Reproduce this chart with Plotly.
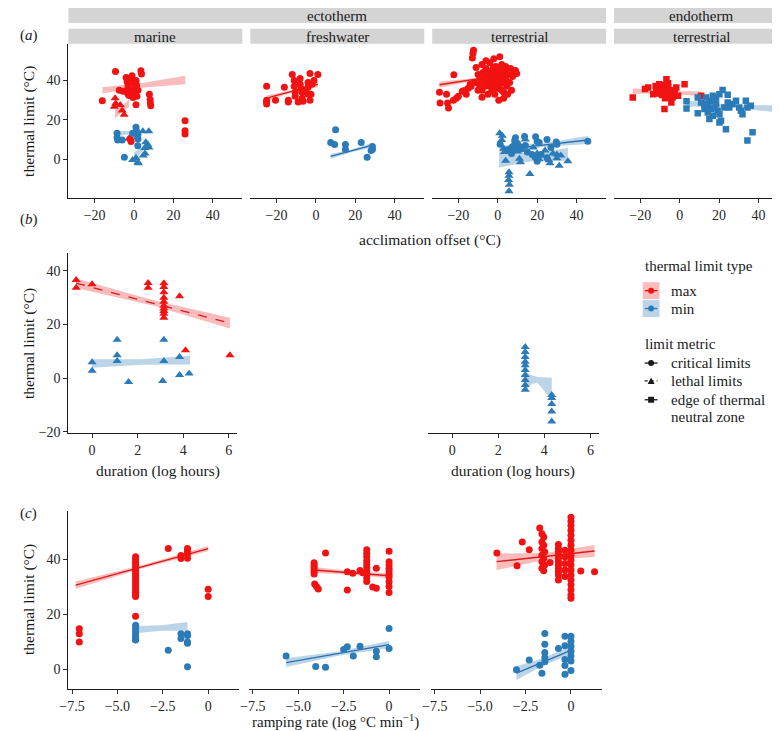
import plotly.graph_objects as go

W, H = 780, 731
FONT = "Liberation Serif, Times New Roman, Times, serif"
RED = "#f21212"
BLUE = "#2b7bb9"
RED_LINE = "#dc1818"
BLUE_LINE = "#2a6fae"
RED_FILL = "rgba(244,120,120,0.5)"
BLUE_FILL = "rgba(120,170,210,0.5)"
TXT = "#1a1a1a"

# ---------------- DATA ----------------
# (a) acclimation offset vs thermal limit
a_mar_max_crit_x = [-16.1, -9.4, -4, -3.5, -3, -3, -2.5, -3.5, -3, -2.5, -1, -0.7, -1, 0, 0, -0.5, 1, 1.3, 2, 1.5, 3.5, 3.8, 1, 7.8, 8.2, 8.3, 8.5, 25.9, 25.9, 25.9, -2, -1.5, -7.5, -5.5]
a_mar_max_crit_y = [29.7, 44.5, 41.5, 39.5, 38, 36.5, 35, 34, 33, 32.4, 42.3, 40.6, 39, 35.6, 33.9, 31.4, 40, 37.5, 35, 32, 44.9, 43.2, 27.7, 33, 30.3, 28.6, 27.1, 19.6, 14.5, 12.8, 10.3, 9.1, 35, 34.5]
a_mar_max_leth_x = [-9.6, -9.3, -10, -7, -6, -5, -2.5]
a_mar_max_leth_y = [31, 28.3, 26.6, 27.5, 24.7, 22.6, 10.5]
a_mar_min_crit_x = [-8.6, -8.6, -8.3, -6, -4.9, 1, 1.2, 1, 1.5, 2, 2, 1.9, -0.7]
a_mar_min_crit_y = [13.2, 11.1, 9.8, 9.8, 1, 16.2, 14.5, 13.2, 11.5, 10.3, 12.6, 6.9, 13.2]
a_mar_min_leth_x = [4.5, 7.5, 6, 7, 7.6, 5.5, -0.7, 1, 2, 2.2, 4.7, 5.6]
a_mar_min_leth_y = [14.2, 14.2, 8.6, 7.4, 6, 5.7, -0.3, 0.7, -1.5, -2, 1.9, 3]

a_fw_max_crit_x = [-25, -25, -25, -25, -20.5, -16, -14, -14, -12, -11, -11, -10.5, -10.5, -8, -8, -7.5, -7, -7, -6.5, -4, -4, -4, -3, -3, -2.5, -2, 1, -5, -9, -1]
a_fw_max_crit_y = [37, 30, 29, 28, 30, 36.5, 30, 29, 43, 40, 37, 34, 32, 41, 38, 36, 34, 31, 29.5, 39, 36.5, 33, 43.5, 30, 33, 38, 43, 35, 29, 40]
a_fw_min_crit_x = [10, 7.5, 9.5, 15, 15, 23, 26, 28.7, 28.7, 28]
a_fw_min_crit_y = [15, 8.5, 7.5, 7.5, 5, 8.5, 1, 6.5, 5, 4.5]

a_ter_max_crit_x = [-12.3, -12.6, -12.9, -22.3, -29.6, -29.3, -25.5, -25, -22.5, -21, -20, -26, -18, -16.6, -15, -13.5, -12, -11, -10, -9.5, -9, -8, -8, -7.5, -7, -6.5, -6, -6, -5.5, -5, -5, -4.5, -4, -4, -3.5, -3, -3, -2.5, -2.5, -2, -2, -1.5, -1.5, -1, -1, -0.5, 0, 0, 0, 0.5, 1, 1, 1.5, 2, 2, 2.5, 3, 3, 3.5, 4, 4.5, 5, 5, 6, 6.5, 7, 7.5, 8, 9, 9.6, 0.5, -14, -16, -8, -10, 4, -2, -6, 1, 3]
a_ter_max_crit_y = [55.3, 53.6, 51.3, 42.9, 34, 28.5, 28.5, 26, 30, 31, 32, 33, 34.5, 35, 36, 37, 39, 46.5, 43, 38, 41, 48, 35, 44, 40, 37, 42, 46, 39, 44, 33, 41, 37, 49, 43, 39, 35, 46, 41, 44, 37, 40, 33, 42, 47, 38, 44, 36, 40, 42, 38, 45, 41, 35, 48, 43, 39, 31, 45, 41, 37, 43, 33, 39, 46, 35, 42, 44, 45, 43.5, 30, 38, 33, 31.5, 35, 47, 51, 50, 52, 34]
a_ter_min_crit_x = [1.2, 13.6, 19.2, 20, 21, 29.7, 30, 45.7, 8.6, 10, 11, 12, 15, 17.5, 19, 20, 22, 25, 4.9, 7, 9, 25, 27, 14]
a_ter_min_crit_y = [7.7, 11.6, 11.5, 9, 8.5, 8.8, 7.7, 9.2, 9.6, 8, 6.5, 5.2, 3.7, 2.5, 1, -1, 2.5, 0.8, 4.8, 3, 11, 10, 6, 7]
a_ter_min_leth_x = [1, 2.3, 2, 3, 3.5, 4, 5.7, 5.7, 5.5, 5.9, 5.7, 6.5, 7.5, 9, 10, 11, 11.5, 16.3, 26, 26.5, 30, 31.2, 35.6, 30, 32, 20, 21, 8, 10, 14, 18, 24, 28]
a_ter_min_leth_y = [13.2, 12, 9.8, 5.5, 3.7, -0.7, -6.6, -8.3, -10.5, -12.9, -16.2, 6, 7, 8, 5.5, 0.3, -1.5, -7.4, -0.5, -2, 0.5, -3.2, -1, 2.5, 2, 3, 0, 5, 4, 10, 6, 4.5, 3]

a_end_max_edge_x = [-23.8, -17.6, -16, -11.8, -11.8, -10.4, -8.4, -6.7, -5.9, -5, -9, -7.4, -4.2, -7.7, -2.5, -1.7, 2.5, -0.8, 10.9, -13.4, -9.8, -3.5, -5.8, -9, -12.2, -4.6, -7, -3, -6.2, -8.6]
a_end_max_edge_y = [31.4, 35.6, 36.4, 35.6, 33.4, 38.1, 35.6, 40.6, 38.5, 34.7, 32.6, 30.9, 28.8, 25.5, 33.9, 36.4, 38.1, 32.2, 32.2, 33, 36.5, 31.5, 36.8, 37.6, 37.2, 32.6, 33.5, 35, 31.5, 34.3]
a_end_min_edge_x = [3.5, 3.5, 9.2, 9.2, 10.9, 12.6, 13.4, 15.1, 16.8, 17.6, 20.2, 21.8, 24.4, 25.2, 26.9, 28.6, 30.2, 31.9, 33.6, 34.4, 36.1, 31.1, 15.1, 20.2, 21, 23.5, 37, 34.4, 51.1, 14.3, 16, 18.5, 19.3, 17.6, 12.6, 14.3, 20.2, 16.8, 22.7, 24.4, 18.5]
a_end_min_edge_y = [29.5, 25.8, 23.3, 31.4, 28.8, 27.9, 31.4, 29.7, 32.2, 26.3, 33, 35.1, 32.7, 26.3, 28, 29.7, 26.3, 22.9, 29.7, 26.3, 27.2, 24.6, 20.4, 18.7, 19.6, 15.3, 13.7, 9.5, 25.5, 27.2, 25.5, 28, 24.6, 29.7, 25.5, 23.8, 22.9, 22.1, 26.3, 28.8, 31.4]

# (b) duration vs thermal limit (lethal limits)
b_l_max_x = [-0.7, -0.7, 0, 2.46, 2.46, 3.15, 3.15, 3.15, 3.15, 3.15, 3.15, 3.15, 3.15, 3.15, 3.15, 3.84, 4.1, 6.05]
b_l_max_y = [36.6, 33.7, 35, 35.5, 33.7, 35.4, 34, 32, 30, 28.5, 27, 26, 25, 24, 22.5, 30.5, 10.4, 8.5]
b_l_min_x = [0, 0, 1.1, 1.1, 1.1, 1.6, 3.15, 3.15, 3.1, 3.84, 3.84, 4.26]
b_l_min_y = [5.9, 2.7, 14.3, 8.5, 6.4, -1.5, 14.3, 6.4, -1.1, 7.9, 1.1, 1.7]
b_r_min_x = [3.17, 3.17, 3.17, 3.17, 3.17, 3.17, 3.17, 3.17, 3.17, 3.17, 4.32, 4.32, 4.32, 4.32, 4.32]
b_r_min_y = [11.6, 9.7, 7.9, 6.1, 4.8, 3, 1.1, -0.7, -2.6, -4.4, -6.3, -7.5, -9.7, -12.5, -16.2]

# (c) ramping rate vs thermal limit (critical limits)
c_l_max_x = [-7.1, -7.1, -7.1, -4, -4, -4, -4, -4, -4, -4, -4, -4, -4, -4, -4, -4, -4, -4, -4, -4, -2.2, -1.5, -1.5, -1.14, -1.14, -1.14, -1.14, 0, 0]
c_l_max_y = [14.8, 13, 10, 41, 40, 39, 38, 37, 36, 35, 34, 33, 32, 31, 30, 29, 28, 27, 26.6, 19.4, 44, 41.5, 40.4, 44, 43, 42, 40.5, 29.2, 26.6]
c_l_min_x = [-4, -4, -4, -4, -4, -4, -4, -2.2, -1.5, -1.5, -1.14, -1.14, -1.14, -1.14, -1.14]
c_l_min_y = [16.1, 15, 14, 13, 12, 11, 10.7, 7, 13, 11.3, 13, 12.4, 10, 9.6, 1]
c_m_max_x = [-3.5, -4.13, -4.13, -4.13, -4.13, -4.13, -4.13, -4.1, -4.0, -3.9, -2.3, -2.3, -2.0, -1.6, -1.45, -1.23, -1.23, -1.23, -1.23, -1.23, -1.23, -1.23, -1.23, -1.23, -1.23, -0.7, -0.9, -0.7, 0, 0, 0, 0, 0, 0, 0, 0, 0, 0]
c_m_max_y = [42.4, 38.8, 38, 37.2, 36.4, 35.6, 34.7, 31.1, 30.2, 29.3, 35.6, 28.9, 35, 36, 35.2, 43.6, 42.3, 41, 39.6, 38.4, 37.2, 36, 34.8, 33.4, 32, 36.8, 30, 29.6, 43, 39.2, 38, 36.8, 35.8, 34.6, 33.6, 31.9, 30.2, 28]
c_m_min_x = [-5.67, -4.04, -3.5, -2.5, -2.3, -1.97, -1.6, -0.7, -0.7, 0, 0]
c_m_min_y = [4.9, 1.1, 0.8, 7.3, 8.3, 4.9, 8.5, 6.7, 4.7, 14.9, 7.7]
c_r_max_x = [-4.08, -2.68, -2.97, -2.3, -1.15, 0.54, 1.3,
             -1.72, -1.6, -1.5, -1.6, -1.5, -1.6, -1.45, -1.6, -1.5, -1.6, -1.45, -1.6, -1.5,
             -0.69, -0.69, -0.69, -0.69, -0.69, -0.69, -0.69, -0.69, -0.69, -0.69, -0.69,
             0, 0, 0, 0, 0, 0, 0, 0, 0, 0, 0, 0, 0, 0, 0, 0, 0, 0,
             -0.33, -0.33, -0.33, -0.33, -0.33]
c_r_max_y = [42.4, 46.4, 37.7, 43.6, 38.9, 35.8, 35.6,
             51.5, 49.4, 48.2, 46.4, 45.2, 44, 42.8, 41.6, 40.4, 39.2, 38, 36.8, 35.9,
             45.5, 44, 42.8, 41.6, 40.4, 39.2, 38, 36.8, 35.6, 34.4, 32.6,
             55.4, 53.9, 52.4, 50.6, 48.8, 47, 45.2, 43.4, 41.6, 39.8, 38, 36.2, 34.4, 32.6, 30.8, 29, 27.1, 25.9,
             43.4, 41, 38.6, 36.2, 33.8]
c_r_min_x = [-3, -2.3, -1.72, -1.6, -1.44, -1.44, -1.44, -1.44, -1.44, -0.69, -0.33, -0.33, -0.33, -0.33, -0.33, 0, 0, 0, 0, 0, 0, 0]
c_r_min_y = [-0.1, 3.5, 1.6, -1.3, 13.1, 9.2, 6.2, 4.4, 2.8, 7.7, 12.1, 8.7, 3.7, 1.5, -1.7, 12.1, 10.3, 8.5, 6.7, 4.9, 3.1, -0.3]

# fitted trends: x, fitted value, half-width of confidence band
fit_a_mar_max_crit = ([-16, 5, 26], [35, 37.6, 40.2], [1.5, 1.2, 2.1])
fit_a_mar_max_leth = ([-9.6, -5, -2.5], [23, 26.5, 28.5], [2.2, 1.5, 2.0])
fit_a_mar_min_crit = ([-8.6, -3, 2], [13, 13.5, 14], [1.3, 0.9, 1.3])
fit_a_mar_min_leth = ([0, 4, 7.6], [1.5, 5, 8.3], [2.0, 1.3, 1.8])
fit_a_fw_max_crit = ([-25, -12, 1], [31, 34.5, 38], [1.3, 0.7, 1.3])
fit_a_fw_min_crit = ([7.5, 18, 28.7], [1.5, 4.3, 7.2], [1.2, 0.7, 1.2])
fit_a_ter_max_crit = ([-29.6, -10, 9.6], [37.8, 40.8, 43.8], [1.5, 0.6, 1.2])
fit_a_ter_min_crit = ([1, 23, 45.7], [4.7, 7.2, 9.8], [2.3, 1.0, 2.0])
fit_a_ter_min_leth = ([0.7, 18, 35.6], [-0.3, 1.1, 2.5], [3.8, 2.0, 3.2])
fit_a_end_max_edge = ([-23.8, -6, 10.9], [34.6, 34, 33.2], [1.3, 0.6, 1.2])
fit_a_end_min_edge = ([3.5, 27, 51.1], [28.3, 26.9, 25.5], [1.5, 0.8, 1.8])
fit_b_l_max = ([-0.7, 2.7, 6.05], [35.4, 28, 20.5], [1.8, 1.0, 2.0])
fit_b_l_min = ([0, 2.15, 4.3], [5.4, 6, 6.7], [1.6, 1.0, 1.6])
fit_b_r_min = ([3.17, 3.45, 3.7, 4.32], [-1.2, -0.6, -0.7, -4.0], [3.5, 1.6, 1.1, 4.1])
fit_c_l_max = ([-7.3, -3.65, 0], [30.7, 37.3, 44], [1.3, 0.6, 0.9])
fit_c_l_min = ([-4, -2.57, -1.14], [14.5, 15.1, 15.7], [1.3, 1.0, 1.6])
fit_c_m_max = ([-4.13, -2, 0], [36.2, 35.1, 34.1], [1.1, 0.6, 0.9])
fit_c_m_min = ([-5.67, -2.8, 0], [2.5, 5.8, 9.1], [1.6, 0.8, 1.3])
fit_c_r_max = ([-4.1, -1.4, 1.3], [39.2, 41.15, 43.1], [3.0, 1.2, 2.2])
fit_c_r_min = ([-3, -1.5, 0], [-1.3, 2.9, 7], [2.5, 1.3, 1.5])

strip_top = ["ectotherm", "endotherm"]
strip_habitat = ["marine", "freshwater", "terrestrial", "terrestrial"]
a_ticks = [-20, 0, 20, 40]
b_xticks = [0, 2, 4, 6]
c_xticks = [-7.5, -5, -2.5, 0]
c_xticktext = ["\u22127.5", "\u22125.0", "\u22122.5", "0"]
c_yticks = [0, 20, 40]

# ---------------- FIGURE ----------------
fig = go.Figure()


def px(p):
    return p / W


def py(p):
    return 1 - p / H


def axid(i):
    return ("x" if i == 1 else f"x{i}"), ("y" if i == 1 else f"y{i}")


def pts(i, x, y, color, symbol, size):
    xa, ya = axid(i)
    fig.add_trace(go.Scatter(x=x, y=y, mode="markers", xaxis=xa, yaxis=ya,
                             marker=dict(color=color, symbol=symbol, size=size, line=dict(width=0)),
                             showlegend=False, hoverinfo="skip"))


def fit(i, f, fill, linecolor=None, dash="solid"):
    xa, ya = axid(i)
    xs, ys, se = f
    lo = [a - b for a, b in zip(ys, se)]
    hi = [a + b for a, b in zip(ys, se)]
    fig.add_trace(go.Scatter(x=list(xs) + list(xs)[::-1], y=hi + lo[::-1], mode="lines",
                             fill="toself", fillcolor=fill, line=dict(width=0),
                             xaxis=xa, yaxis=ya, showlegend=False, hoverinfo="skip"))
    if linecolor:
        fig.add_trace(go.Scatter(x=xs, y=ys, mode="lines", line=dict(color=linecolor, width=1.3, dash=dash),
                                 xaxis=xa, yaxis=ya, showlegend=False, hoverinfo="skip"))


# panel (a): axes 1-4
fit(1, fit_a_mar_max_crit, RED_FILL)
fit(1, fit_a_mar_max_leth, RED_FILL)
fit(1, fit_a_mar_min_crit, BLUE_FILL)
fit(1, fit_a_mar_min_leth, BLUE_FILL)
pts(1, a_mar_max_crit_x, a_mar_max_crit_y, RED, "circle", 7)
pts(1, a_mar_max_leth_x, a_mar_max_leth_y, RED, "triangle-up", 8)
pts(1, a_mar_min_crit_x, a_mar_min_crit_y, BLUE, "circle", 7)
pts(1, a_mar_min_leth_x, a_mar_min_leth_y, BLUE, "triangle-up", 8)

fit(2, fit_a_fw_max_crit, RED_FILL, RED_LINE)
fit(2, fit_a_fw_min_crit, BLUE_FILL, BLUE_LINE)
pts(2, a_fw_max_crit_x, a_fw_max_crit_y, RED, "circle", 7)
pts(2, a_fw_min_crit_x, a_fw_min_crit_y, BLUE, "circle", 7)

fit(3, fit_a_ter_max_crit, RED_FILL, RED_LINE)
fit(3, fit_a_ter_min_crit, BLUE_FILL, BLUE_LINE)
fit(3, fit_a_ter_min_leth, BLUE_FILL)
pts(3, a_ter_max_crit_x, a_ter_max_crit_y, RED, "circle", 7)
pts(3, a_ter_min_crit_x, a_ter_min_crit_y, BLUE, "circle", 7)
pts(3, a_ter_min_leth_x, a_ter_min_leth_y, BLUE, "triangle-up", 8)

fit(4, fit_a_end_max_edge, RED_FILL)
fit(4, fit_a_end_min_edge, BLUE_FILL)
pts(4, a_end_max_edge_x, a_end_max_edge_y, RED, "square", 6.5)
pts(4, a_end_min_edge_x, a_end_min_edge_y, BLUE, "square", 6.5)

# panel (b): axes 5-6
fit(5, fit_b_l_max, RED_FILL, RED_LINE, "dash")
fit(5, fit_b_l_min, BLUE_FILL)
pts(5, b_l_max_x, b_l_max_y, RED, "triangle-up", 8)
pts(5, b_l_min_x, b_l_min_y, BLUE, "triangle-up", 8)
fit(6, fit_b_r_min, BLUE_FILL)
pts(6, b_r_min_x, b_r_min_y, BLUE, "triangle-up", 8)

# panel (c): axes 7-9
fit(7, fit_c_l_max, RED_FILL, RED_LINE)
fit(7, fit_c_l_min, BLUE_FILL)
pts(7, c_l_max_x, c_l_max_y, RED, "circle", 7)
pts(7, c_l_min_x, c_l_min_y, BLUE, "circle", 7)
fit(8, fit_c_m_max, RED_FILL, RED_LINE)
fit(8, fit_c_m_min, BLUE_FILL, BLUE_LINE)
pts(8, c_m_max_x, c_m_max_y, RED, "circle", 7)
pts(8, c_m_min_x, c_m_min_y, BLUE, "circle", 7)
fit(9, fit_c_r_max, RED_FILL, RED_LINE)
fit(9, fit_c_r_min, BLUE_FILL, BLUE_LINE)
pts(9, c_r_max_x, c_r_max_y, RED, "circle", 7)
pts(9, c_r_min_x, c_r_min_y, BLUE, "circle", 7)

# ---------------- AXES ----------------
tickfont = dict(family=FONT, size=14, color="#262626")
base = dict(showline=True, linecolor="#1a1a1a", linewidth=1, ticks="outside", ticklen=4,
            tickcolor="#333333", tickwidth=1, showgrid=False, zeroline=False,
            tickfont=tickfont, fixedrange=True)

A_XR = [-33.3, 55.0]
A_YR = [-19.8, 58.6]
B_XR = [-1.04, 6.38]
B_YR = [-20.7, 46.7]
C_XR = [-7.7, 1.72]
C_YR = [-7.2, 57.7]

specs = [
    # i, xdom px, ydom px, xrange, yrange, xticks, xticktext, yticks, show y axis
    (1, (52, 228), (36, 192), A_XR, A_YR, a_ticks, None, a_ticks, True),
    (2, (236, 412), (36, 192), A_XR, A_YR, a_ticks, None, a_ticks, False),
    (3, (420, 596), (36, 192), A_XR, A_YR, a_ticks, None, a_ticks, False),
    (4, (604, 780), (36, 192), A_XR, A_YR, a_ticks, None, a_ticks, False),
    (5, (52, 223), (247, 429), B_XR, B_YR, b_xticks, None, a_ticks, True),
    (6, (416, 589), (247, 429), B_XR, B_YR, b_xticks, None, a_ticks, False),
    (7, (52, 225), (507, 687), C_XR, C_YR, c_xticks, c_xticktext, c_yticks, True),
    (8, (235, 408), (507, 687), C_XR, C_YR, c_xticks, c_xticktext, c_yticks, False),
    (9, (419, 592), (507, 687), C_XR, C_YR, c_xticks, c_xticktext, c_yticks, False),
]
layout_axes = {}
for i, xd, yd, xr, yr, xt, xtt, yt, showy in specs:
    xk = "xaxis" if i == 1 else f"xaxis{i}"
    yk = "yaxis" if i == 1 else f"yaxis{i}"
    xa, ya = axid(i)
    xdict = dict(base, domain=[px(xd[0]), px(xd[1])], range=xr, tickvals=xt, anchor=ya)
    if xtt:
        xdict["ticktext"] = xtt
    layout_axes[xk] = xdict
    ydict = dict(base, domain=[py(yd[1]), py(yd[0])], range=yr, tickvals=yt, anchor=xa)
    if not showy:
        ydict["visible"] = False
    layout_axes[yk] = ydict

# ---------------- STRIPS, TITLES, LEGEND ----------------
shapes = []
annotations = []


def text(x, y, s, size=15, xanchor="center", angle=0, color=TXT, yanchor="middle"):
    annotations.append(dict(x=px(x), y=py(y), xref="paper", yref="paper", text=s, showarrow=False,
                            xanchor=xanchor, yanchor=yanchor, textangle=angle,
                            font=dict(family=FONT, size=size, color=color)))


STRIP = "#d4d4d4"
for (x0, x1), lab in zip([(52, 596), (604, 780)], strip_top):
    shapes.append(dict(type="rect", xref="paper", yref="paper", x0=px(x0), x1=px(x1), y0=py(15), y1=py(0),
                       fillcolor=STRIP, line=dict(width=0), layer="below"))
    text((x0 + x1) / 2, 8.5, lab)
for (x0, x1), lab in zip([(52, 228), (236, 412), (420, 596), (604, 780)], strip_habitat):
    shapes.append(dict(type="rect", xref="paper", yref="paper", x0=px(x0), x1=px(x1), y0=py(36), y1=py(21),
                       fillcolor=STRIP, line=dict(width=0), layer="below"))
    text((x0 + x1) / 2, 29, lab)

text(1, 28, "(<i>a</i>)", 15, "left")
text(1, 213, "(<i>b</i>)", 15, "left")
text(1, 510, "(<i>c</i>)", 15, "left")

text(418, 234, "acclimation offset (°C)", 15.5)
text(143, 467, "duration (log hours)", 15.5)
text(502, 467, "duration (log hours)", 15.5)
text(322, 731, "ramping rate (log °C min<sup>\u22121</sup>)", 15, yanchor="bottom")
for yc in (114, 338, 596):
    text(12, yc, "thermal limit (°C)", 15.5, angle=-90)

# legend
LX = 633
text(LX, 260, "thermal limit type", 15, "left")
for yc, fill, col, lab in [(285, RED_FILL, RED, "max"), (303, BLUE_FILL, BLUE, "min")]:
    shapes.append(dict(type="rect", xref="paper", yref="paper", x0=px(LX), x1=px(LX + 17),
                       y0=py(yc + 8.5), y1=py(yc - 8.5), fillcolor=fill, line=dict(width=0)))
    shapes.append(dict(type="line", xref="paper", yref="paper", x0=px(LX + 2), x1=px(LX + 15),
                       y0=py(yc), y1=py(yc), line=dict(color=col, width=1.3)))
    shapes.append(dict(type="circle", xref="paper", yref="paper", x0=px(LX + 5.5), x1=px(LX + 11.5),
                       y0=py(yc + 3), y1=py(yc - 3), fillcolor=col, line=dict(width=0)))
    text(660, yc, lab, 15, "left")

text(LX, 339, "limit metric", 15, "left")
K = "#1a1a1a"
for yc, dash in [(358, "solid"), (376, "dash"), (395, "solid")]:
    shapes.append(dict(type="line", xref="paper", yref="paper", x0=px(LX + 2), x1=px(LX + 15),
                       y0=py(yc), y1=py(yc), line=dict(color=K, width=1.3, dash="dot" if dash == "dash" else "solid")))
cx = LX + 8.5
shapes.append(dict(type="circle", xref="paper", yref="paper", x0=px(cx - 3), x1=px(cx + 3),
                   y0=py(358 + 3), y1=py(358 - 3), fillcolor=K, line=dict(width=0)))
shapes.append(dict(type="path", xref="paper", yref="paper",
                   path=f"M {px(cx - 3.5)} {py(376 + 3)} L {px(cx + 3.5)} {py(376 + 3)} L {px(cx)} {py(376 - 3.5)} Z",
                   fillcolor=K, line=dict(width=0)))
shapes.append(dict(type="rect", xref="paper", yref="paper", x0=px(cx - 3), x1=px(cx + 3),
                   y0=py(395 + 3), y1=py(395 - 3), fillcolor=K, line=dict(width=0)))
text(660, 358, "critical limits", 15, "left")
text(660, 376, "lethal limits", 15, "left")
text(660, 395, "edge of thermal", 15, "left")
text(660, 412, "neutral zone", 15, "left")

fig.update_layout(width=W, height=H, margin=dict(l=0, r=0, t=0, b=0),
                  paper_bgcolor="white", plot_bgcolor="white", showlegend=False,
                  shapes=shapes, annotations=annotations, **layout_axes)

fig.write_html("out.html")
